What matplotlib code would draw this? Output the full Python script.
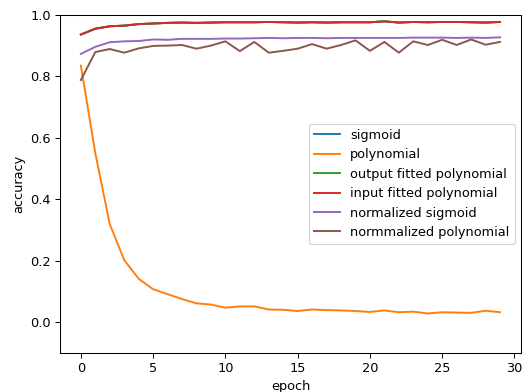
import matplotlib
matplotlib.use("Agg")
import matplotlib.pyplot as plt
import numpy as np

epochs = np.arange(30)

input_fitted = [0.936, 0.955, 0.963, 0.965, 0.970, 0.972, 0.974, 0.975, 0.974, 0.975,
                0.976, 0.976, 0.976, 0.977, 0.976, 0.975, 0.976, 0.975, 0.976, 0.976,
                0.976, 0.979, 0.975, 0.977, 0.976, 0.977, 0.977, 0.976, 0.975, 0.977]
sigmoid = list(input_fitted)
output_fitted = list(input_fitted)

polynomial = [0.835, 0.550, 0.319, 0.202, 0.141, 0.107, 0.091, 0.075, 0.061, 0.057,
              0.047, 0.051, 0.051, 0.041, 0.040, 0.036, 0.041, 0.039, 0.038, 0.036,
              0.033, 0.038, 0.032, 0.034, 0.028, 0.032, 0.031, 0.030, 0.037, 0.032]

norm_sigmoid = [0.873, 0.896, 0.911, 0.914, 0.915, 0.920, 0.919, 0.922, 0.922, 0.922,
                0.923, 0.923, 0.924, 0.925, 0.924, 0.925, 0.925, 0.924, 0.925, 0.925,
                0.925, 0.925, 0.925, 0.926, 0.926, 0.926, 0.925, 0.926, 0.925, 0.927]

norm_polynomial = [0.788, 0.879, 0.889, 0.877, 0.891, 0.899, 0.900, 0.902, 0.890, 0.900,
                   0.914, 0.882, 0.912, 0.877, 0.883, 0.890, 0.905, 0.890, 0.902, 0.917,
                   0.883, 0.912, 0.877, 0.914, 0.902, 0.919, 0.902, 0.920, 0.903, 0.912]

# the reference looks like a slightly shrunk render, so use a lower dpi
fig, ax = plt.subplots(figsize=(530 / 93, 392 / 93), dpi=93)
ax.plot(epochs, sigmoid, label="sigmoid")
ax.plot(epochs, polynomial, label="polynomial")
ax.plot(epochs, output_fitted, label="output fitted polynomial")
ax.plot(epochs, input_fitted, label="input fitted polynomial")
ax.plot(epochs, norm_sigmoid, label="normalized sigmoid")
ax.plot(epochs, norm_polynomial, label="normmalized polynomial")
ax.set_ylim(-0.1, 1.0)
ax.set_xlabel("epoch")
ax.set_ylabel("accuracy")
ax.legend(loc="center right")
fig.subplots_adjust(left=0.113, right=0.983, top=0.962, bottom=0.1)
fig.savefig("out.png")
